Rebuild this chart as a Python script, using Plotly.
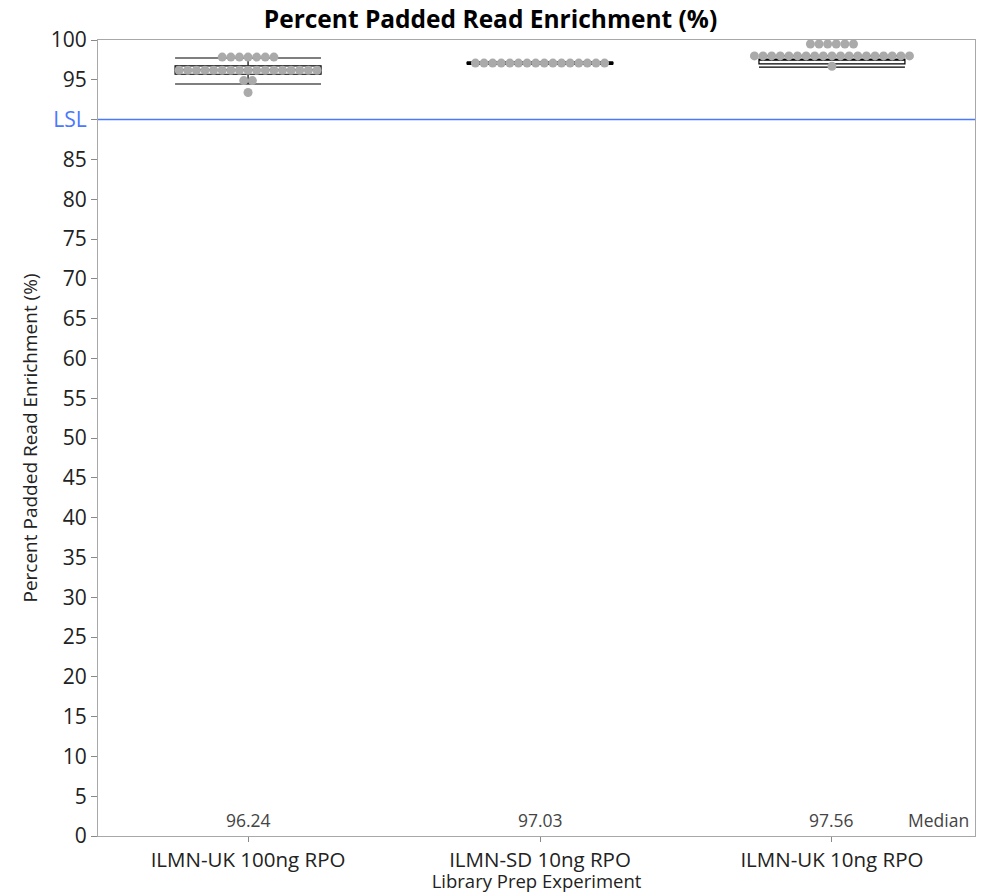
import plotly.graph_objects as go

categories = ["ILMN-UK 100ng RPO", "ILMN-SD 10ng RPO", "ILMN-UK 10ng RPO"]
# values per group (read from beeswarm rows)
g1_values = [97.85] * 7 + [96.2] * 17 + [94.9] * 2 + [93.4]
g2_values = [97.1] * 16
g3_values = [99.5] * 6 + [98.0] * 19 + [96.7]
group_values = [g1_values, g2_values, g3_values]

medians = [96.24, 97.03, 97.56]
q1s = [95.7, 97.0, 97.0]
q3s = [96.75, 97.2, 97.6]
lower_fences = [94.47, 96.95, 96.6]
upper_fences = [97.74, 97.25, 98.0]

lsl_value = 90
y_ticks = list(range(0, 101, 5))

font_family = "Open Sans, Noto Sans, DejaVu Sans, sans-serif"
lsl_color = "#4a78ff"
dx = 0.0295  # horizontal spacing of beeswarm points (x units)

fig = go.Figure()

# box plots (drawn below the points)
fig.add_trace(go.Box(
    x=[0, 1, 2], q1=q1s, median=medians, q3=q3s,
    lowerfence=lower_fences, upperfence=upper_fences,
    width=0.5, whiskerwidth=1,
    fillcolor="rgba(0,0,0,0)", line=dict(color="black", width=1.2),
    boxpoints=False, showlegend=False,
))

# beeswarm points
px, py = [], []
for gi, vals in enumerate(group_values):
    rows = {}
    for v in vals:
        rows.setdefault(v, 0)
        rows[v] += 1
    for v, n in rows.items():
        for i in range(n):
            px.append(gi + (i - (n - 1) / 2) * dx)
            py.append(v)

fig.add_trace(go.Scatter(
    x=px, y=py, mode="markers",
    marker=dict(size=9, color="#aaaaaa", line=dict(width=0)),
    hoverinfo="y", showlegend=False,
))

# LSL line
fig.add_shape(type="line", xref="paper", x0=0, x1=1, yref="y", y0=lsl_value, y1=lsl_value,
              line=dict(color=lsl_color, width=1.5))

# median labels
for i, m in enumerate(medians):
    fig.add_annotation(x=i, y=2.0, xref="x", yref="y", text=f"{m:.2f}", showarrow=False,
                       font=dict(size=17.5, color="#444444", family=font_family))
fig.add_annotation(x=0.995, y=2.0, xref="paper", yref="y", text="Median", showarrow=False,
                   xanchor="right", font=dict(size=17.5, color="#444444", family=font_family))

tick_text = [f'<span style="color:{lsl_color}">LSL</span>' if t == lsl_value else str(t) for t in y_ticks]

fig.update_layout(
    width=981, height=893,
    margin=dict(l=98, r=6, t=40, b=57, autoexpand=False),
    paper_bgcolor="white", plot_bgcolor="white",
    font=dict(family=font_family, color="#222222"),
    title=dict(text="<b>Percent Padded Read Enrichment (%)</b>", x=0.5, xanchor="center",
               y=0.978, yanchor="middle", font=dict(size=24.5, color="black")),
    xaxis=dict(
        range=[-0.514, 2.49], tickmode="array", tickvals=[0, 1, 2], ticktext=categories,
        showgrid=False, zeroline=False, showline=True, linecolor="#a8a8a8", mirror=True,
        ticks="outside", ticklen=5, tickcolor="#888888", automargin=False,
        tickfont=dict(size=20.5, color="#222222"),
        title=dict(text="Library Prep Experiment", font=dict(size=18.5, color="#222222"), standoff=3),
    ),
    yaxis=dict(
        range=[0, 100], tickmode="array", tickvals=y_ticks, ticktext=tick_text,
        showgrid=False, zeroline=False, showline=True, linecolor="#a8a8a8", mirror=True,
        ticks="outside", ticklen=6, tickcolor="#888888", automargin=False,
        tickfont=dict(size=21, color="#222222"),
        title=dict(text="Percent Padded Read Enrichment (%)", font=dict(size=19, color="#222222"), standoff=8),
    ),
)

fig.write_html(
    "out.html",
    config={"displayModeBar": False},
    post_script="document.body.style.margin='0';document.body.style.overflow='hidden';",
)
